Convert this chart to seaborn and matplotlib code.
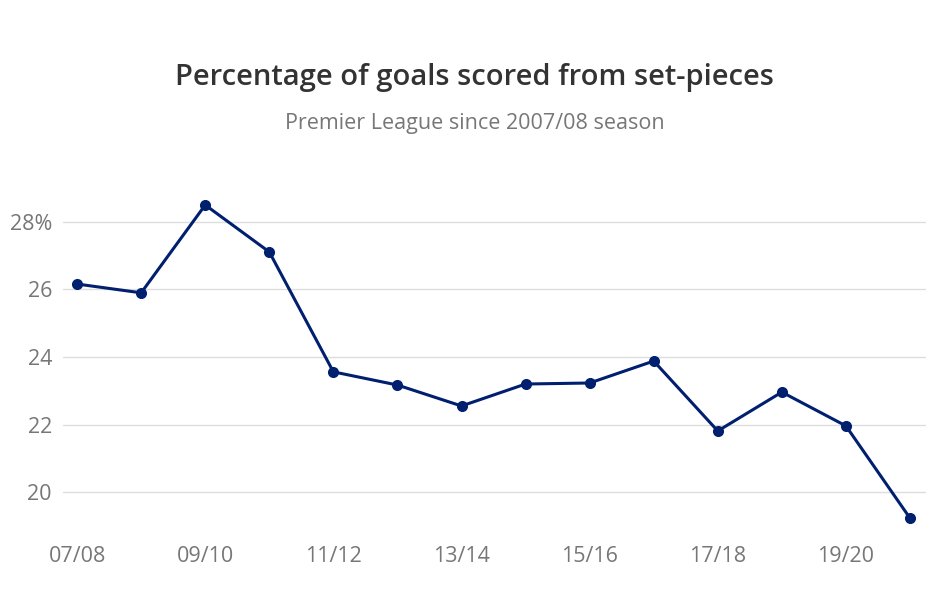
import matplotlib
matplotlib.use("Agg")
import matplotlib.pyplot as plt
import seaborn as sns
import pandas as pd

seasons = ["07/08", "08/09", "09/10", "10/11", "11/12", "12/13", "13/14",
           "14/15", "15/16", "16/17", "17/18", "18/19", "19/20", "20/21"]
pct = [26.16, 25.90, 28.50, 27.11, 23.56, 23.17, 22.55,
       23.20, 23.23, 23.88, 21.81, 22.96, 21.96, 19.23]
y_ticks = [20, 22, 24, 26, 28]
y_labels = ["20", "22", "24", "26", "28%"]

sns.set_theme(style="white")
plt.rcParams['font.family'] = ['Open Sans', 'DejaVu Sans']

df = pd.DataFrame({"idx": range(len(seasons)), "season": seasons, "pct": pct})

fig = plt.figure(figsize=(9.49, 6.04), dpi=100)
ax = fig.add_axes([63/949, 69/604, (926-63)/949, (535-180)/604])

line_color = "#001f6e"
sns.lineplot(data=df, x="idx", y="pct", ax=ax, color=line_color, linewidth=2.2,
             marker="o", markersize=8, markeredgewidth=0, markeredgecolor=line_color)

ax.set_xlim(-0.22, 13.25)
ax.set_ylim(18.73, 29.24)
ax.set_yticks(y_ticks)
ax.set_yticklabels(y_labels)
ax.set_xticks(df["idx"][::2])
ax.set_xticklabels(df["season"][::2])
ax.set_xlabel("")
ax.set_ylabel("")
for s in ax.spines.values():
    s.set_visible(False)
ax.grid(axis="y", color="#dddddd", linewidth=1)
ax.set_axisbelow(True)
ax.tick_params(axis="both", length=0, labelsize=15.5, labelcolor="#777777")
ax.tick_params(axis="y", pad=8)
ax.tick_params(axis="x", pad=8)

fig.text(0.5, 1 - 77/604, "Percentage of goals scored from set-pieces",
         ha="center", va="center", fontsize=21, color="#333333", fontweight="semibold")
fig.text(0.5, 1 - 124/604, "Premier League since 2007/08 season",
         ha="center", va="center", fontsize=15.5, color="#777777")

fig.savefig("out.png", dpi=100, facecolor="white")
